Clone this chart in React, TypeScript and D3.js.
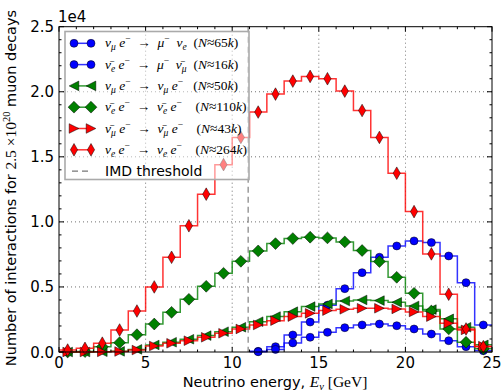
import React, { useEffect } from "react";
import * as d3 from "d3";

// ---------- data (counts per 1 GeV bin) ----------
const fullBinStart = 0;
const nuEScatter = [150, 280, 680, 1690, 3150, 5000, 7280, 9700, 12130, 14400, 16490, 18440, 19820, 20820, 21180, 21000, 20050, 18560, 16490, 13740, 10790, 7540, 4440, 1770, 410];
const nuEbarScatter = [0, 30, 410, 720, 1330, 2150, 3050, 4050, 5050, 6050, 6970, 7770, 8330, 8720, 8820, 8770, 8460, 7800, 6950, 5740, 4510, 3150, 1770, 750, 250];
const nuMuScatter = [0, 0, 20, 50, 200, 540, 750, 980, 1260, 1560, 1900, 2330, 2720, 3100, 3490, 3690, 3920, 4000, 3950, 3820, 3540, 3260, 2550, 1900, 550];
const nuMubarScatter = [0, 0, 10, 40, 150, 460, 670, 870, 1130, 1440, 1770, 2080, 2410, 2720, 2970, 3180, 3280, 3360, 3360, 3310, 3080, 2720, 2200, 1700, 450];
const imdBinStart = 11;
const imdNuMu = [50, 410, 1310, 2300, 3600, 4870, 6100, 7280, 8150, 8540, 8410, 7380, 5330, 2080];
const imdNuEbar = [20, 200, 700, 1130, 1510, 1870, 2080, 2150, 2020, 1770, 1380, 870, 410, 100];
const imdThreshold = 10.92;

const xTicks = [0, 5, 10, 15, 20, 25];
const yTicks = [0, 5000, 10000, 15000, 20000, 25000];

type Part = [string, string];
const LBL1: Part[] = [["ν", "i"], ["μ", "sub"], [" e", "i"], ["−", "sup"], ["  →  ", "u"], ["μ", "i"], ["−", "sup"], ["  ν", "i"], ["e", "sub"], ["  (", "u"], ["N", "i"], ["≈65", "u"], ["k", "i"], [")", "u"]];
const LBL2: Part[] = [["ν\u0304", "i"], ["e", "sub"], [" e", "i"], ["−", "sup"], ["  →  ", "u"], ["μ", "i"], ["−", "sup"], ["  ν\u0304", "i"], ["μ", "sub"], ["  (", "u"], ["N", "i"], ["≈16", "u"], ["k", "i"], [")", "u"]];
const LBL3: Part[] = [["ν", "i"], ["μ", "sub"], [" e", "i"], ["−", "sup"], ["  →  ", "u"], ["ν", "i"], ["μ", "sub"], [" e", "i"], ["−", "sup"], ["   (", "u"], ["N", "i"], ["≈50", "u"], ["k", "i"], [")", "u"]];
const LBL4: Part[] = [["ν\u0304", "i"], ["e", "sub"], [" e", "i"], ["−", "sup"], ["  →  ", "u"], ["ν\u0304", "i"], ["e", "sub"], [" e", "i"], ["−", "sup"], ["    (", "u"], ["N", "i"], ["≈110", "u"], ["k", "i"], [")", "u"]];
const LBL5: Part[] = [["ν\u0304", "i"], ["μ", "sub"], [" e", "i"], ["−", "sup"], ["  →  ", "u"], ["ν\u0304", "i"], ["μ", "sub"], [" e", "i"], ["−", "sup"], ["    (", "u"], ["N", "i"], ["≈43", "u"], ["k", "i"], [")", "u"]];
const LBL6: Part[] = [["ν", "i"], ["e", "sub"], [" e", "i"], ["−", "sup"], ["  →  ", "u"], ["ν", "i"], ["e", "sub"], [" e", "i"], ["−", "sup"], ["    (", "u"], ["N", "i"], ["≈264", "u"], ["k", "i"], [")", "u"]];

const W = 501, H = 391;
const L = 59, R = 492, T = 26.7, B = 352;

const x = d3.scaleLinear().domain([0, 25]).range([L, R]);
const y = d3.scaleLinear().domain([0, 25000]).range([B, T]);

function stepPath(start: number, vals: number[]) {
  const pts: [number, number][] = vals.map((v, i) => [start + i, v]);
  pts.push([start + vals.length, vals[vals.length - 1]]);
  return d3.line<[number, number]>().x(d => x(d[0])).y(d => y(d[1])).curve(d3.curveStepAfter)(pts) || "";
}

function markerPath(kind: string, cx: number, cy: number) {
  switch (kind) {
    case "circle": {
      const r = 4;
      return `M${cx - r},${cy}a${r},${r} 0 1,0 ${2 * r},0a${r},${r} 0 1,0 ${-2 * r},0Z`;
    }
    case "D": {
      const r = 5.9;
      return `M${cx},${cy - r}L${cx + r},${cy}L${cx},${cy + r}L${cx - r},${cy}Z`;
    }
    case "d": {
      const w = 3.6, h = 6.3;
      return `M${cx},${cy - h}L${cx + w},${cy}L${cx},${cy + h}L${cx - w},${cy}Z`;
    }
    case "<": {
      const s = 4.8;
      return `M${cx - s},${cy}L${cx + s},${cy - s}L${cx + s},${cy + s}Z`;
    }
    case ">": {
      const s = 4.8;
      return `M${cx + s},${cy}L${cx - s},${cy - s}L${cx - s},${cy + s}Z`;
    }
  }
  return "";
}

const series = [
  { start: imdBinStart, vals: imdNuMu, color: "#0000ff", marker: "circle", label: LBL1 },
  { start: imdBinStart, vals: imdNuEbar, color: "#0000ff", marker: "circle", label: LBL2 },
  { start: fullBinStart, vals: nuMuScatter, color: "#008000", marker: "<", label: LBL3 },
  { start: fullBinStart, vals: nuEbarScatter, color: "#008000", marker: "D", label: LBL4 },
  { start: fullBinStart, vals: nuMubarScatter, color: "#ff0000", marker: ">", label: LBL5 },
  { start: fullBinStart, vals: nuEScatter, color: "#ff0000", marker: "d", label: LBL6 },
];

function mathSpans(parts: Part[]) {
  let cur = 0;
  return parts.map((p, i) => {
    const [t, k] = p;
    let target = 0;
    let fs = 13.5;
    let style = "italic";
    if (k === "sub") { target = 3; fs = 9.5; }
    if (k === "sup") { target = -5; fs = 9.5; style = "normal"; }
    if (k === "u") style = "normal";
    const dy = target - cur;
    cur = target;
    return (
      <tspan key={i} dy={dy} fontSize={fs} fontStyle={style} style={{ whiteSpace: "pre" }}>{t}</tspan>
    );
  });
}

export default function App() {
  useEffect(() => {
    document.body.style.margin = "0";
  }, []);

  const xMinor = d3.range(0, 26, 1).filter(v => v % 5 !== 0);
  const yMinor = d3.range(0, 25001, 1000).filter(v => v % 5000 !== 0);
  const maj = 5, mnr = 2.5;
  const legRows = [43.3, 64.6, 85.9, 107.2, 128.5, 149.8, 171.1];

  return (
    <svg width={W} height={H} style={{ position: "absolute", left: 0, top: 0, background: "#fff" }} fontFamily="DejaVu Sans">
      <rect x={0} y={0} width={W} height={H} fill="#fff" />
      {/* grid */}
      {xTicks.slice(1, -1).map(v => (
        <line key={"gx" + v} x1={x(v)} x2={x(v)} y1={T} y2={B} stroke="#000" strokeWidth={0.8} strokeDasharray="1,3" opacity={0.7} />
      ))}
      {yTicks.slice(1, -1).map(v => (
        <line key={"gy" + v} x1={L} x2={R} y1={y(v)} y2={y(v)} stroke="#000" strokeWidth={0.8} strokeDasharray="1,3" opacity={0.7} />
      ))}
      {/* series */}
      {series.map((s, si) => (
        <g key={"s" + si}>
          <path d={stepPath(s.start, s.vals)} fill="none" stroke={s.color} strokeWidth={1.5} opacity={0.8} />
          {s.vals.map((v, i) => (
            <path key={i} d={markerPath(s.marker, x(s.start + i + 0.5), y(v))} fill={s.color} stroke="#000" strokeWidth={0.5} />
          ))}
        </g>
      ))}
      {/* IMD threshold */}
      <line x1={x(imdThreshold)} x2={x(imdThreshold)} y1={T} y2={B} stroke="#777" strokeWidth={1.1} strokeDasharray="6,4" />
      {/* frame */}
      <rect x={L} y={T} width={R - L} height={B - T} fill="none" stroke="#000" strokeWidth={1} />
      {/* ticks */}
      {xTicks.map(v => (
        <g key={"tx" + v}>
          <line x1={x(v)} x2={x(v)} y1={B} y2={B - maj} stroke="#000" />
          <line x1={x(v)} x2={x(v)} y1={T} y2={T + maj} stroke="#000" />
          <text x={x(v)} y={368} textAnchor="middle" fontSize={15}>{v}</text>
        </g>
      ))}
      {xMinor.map(v => (
        <g key={"mx" + v}>
          <line x1={x(v)} x2={x(v)} y1={B} y2={B - mnr} stroke="#000" />
          <line x1={x(v)} x2={x(v)} y1={T} y2={T + mnr} stroke="#000" />
        </g>
      ))}
      {yTicks.map(v => (
        <g key={"ty" + v}>
          <line x1={L} x2={L + maj} y1={y(v)} y2={y(v)} stroke="#000" />
          <line x1={R} x2={R - maj} y1={y(v)} y2={y(v)} stroke="#000" />
          <text x={54} y={y(v) + 5.5} textAnchor="end" fontSize={15}>{(v / 10000).toFixed(1)}</text>
        </g>
      ))}
      {yMinor.map(v => (
        <g key={"my" + v}>
          <line x1={L} x2={L + mnr} y1={y(v)} y2={y(v)} stroke="#000" />
          <line x1={R} x2={R - mnr} y1={y(v)} y2={y(v)} stroke="#000" />
        </g>
      ))}
      <text x={58} y={22} fontSize={15}>1e4</text>
      {/* axis labels */}
      <text x={275} y={387} textAnchor="middle" fontSize={14.5}>
        <tspan>Neutrino energy, </tspan>
        <tspan fontFamily="Liberation Serif" fontStyle="italic" fontSize={15.5}>E</tspan>
        <tspan fontFamily="Liberation Serif" fontStyle="italic" fontSize={10.5} dy={3}>ν</tspan>
        <tspan fontFamily="Liberation Serif" fontSize={15.5} dy={-3}> [GeV]</tspan>
      </text>
      <text transform="translate(16,188) rotate(-90)" textAnchor="middle" fontSize={14.5}>
        <tspan>Number of interactions for </tspan>
        <tspan fontFamily="Liberation Serif" fontSize={15.5}>2.5 ×10</tspan>
        <tspan fontFamily="Liberation Serif" fontSize={10.5} dy={-6}>20</tspan>
        <tspan dy={6}> muon decays</tspan>
      </text>
      {/* legend */}
      <rect x={65} y={31.5} width={184} height={148} fill="#fff" fillOpacity={0.5} stroke="#aaa" strokeWidth={1.6} />
      {series.map((s, si) => (
        <g key={"l" + si}>
          <line x1={74} x2={91} y1={legRows[si]} y2={legRows[si]} stroke={s.color} strokeWidth={1.5} opacity={0.8} />
          <path d={markerPath(s.marker, 74, legRows[si])} fill={s.color} stroke="#000" strokeWidth={0.5} />
          <path d={markerPath(s.marker, 91, legRows[si])} fill={s.color} stroke="#000" strokeWidth={0.5} />
          <text x={105} y={legRows[si] + 4} fontFamily="Liberation Serif" fill="#000">
            {mathSpans(s.label)}
          </text>
        </g>
      ))}
      <line x1={72} x2={92} y1={legRows[6]} y2={legRows[6]} stroke="#777" strokeWidth={1.1} strokeDasharray="6,4" />
      <text x={105} y={legRows[6] + 5} fontSize={14}>IMD threshold</text>
    </svg>
  );
}
